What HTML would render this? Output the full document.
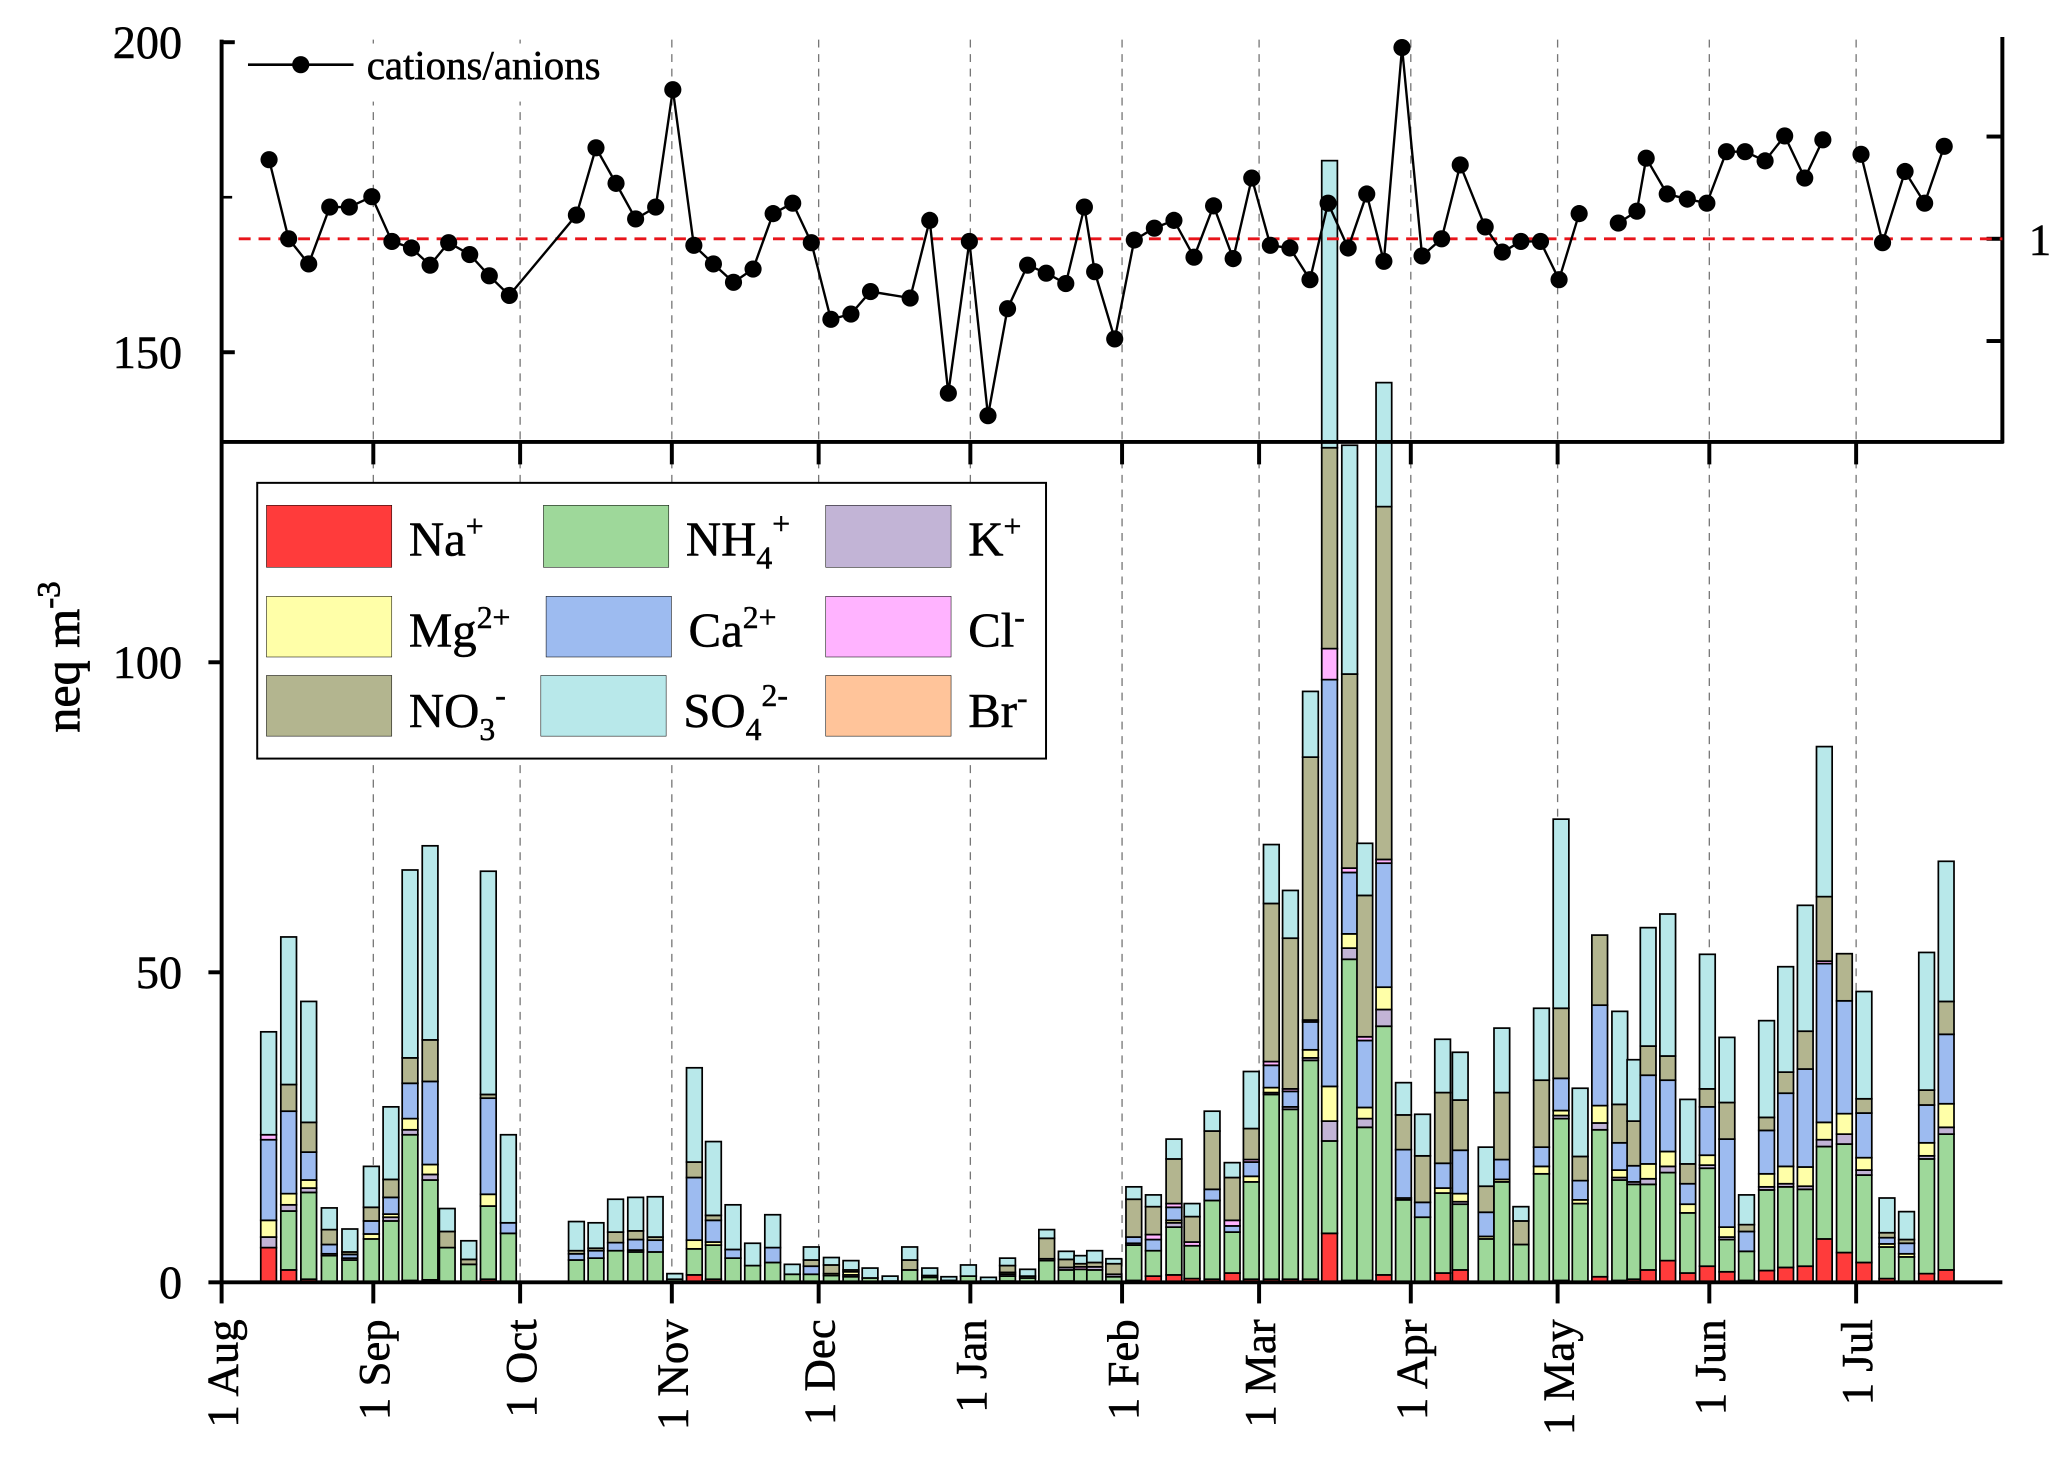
<!DOCTYPE html>
<html><head><meta charset="utf-8">
<style>
html,body{margin:0;padding:0;background:#fff;}
svg{display:block;font-family:"Liberation Serif",serif;}
</style></head>
<body>
<svg id="chart" width="2067" height="1469" viewBox="0 0 1567 1113.5" preserveAspectRatio="none" xmlns="http://www.w3.org/2000/svg">
<g id="grid"></g>
<g id="bars"></g>
<g id="axes"></g>
<g id="ratio"></g>
<g id="legend-ratio">
  <rect x="178" y="33" width="315" height="44" fill="#fff"/>
  <line x1="188" y1="49" x2="268" y2="49" stroke="#000" stroke-width="2"/>
  <circle cx="228" cy="49" r="6.5" fill="#000"/>
  <text x="278" y="60" font-size="31" stroke="#000" stroke-width="0.4">cations/anions</text>
</g>
<g id="legend" stroke-width="0.4">
  <rect x="195" y="366" width="598" height="209" fill="#fff" stroke="#000" stroke-width="1.5"/>
  <g><rect x="202" y="383" width="95" height="47" fill="#FF3B3B" stroke="#000"/><text x="310" y="421" font-size="37" stroke="#000">Na<tspan dy="-14" font-size="24">+</tspan></text></g>
  <g><rect x="412" y="383" width="95" height="47" fill="#9ED89A" stroke="#000"/><text x="520" y="421" font-size="37" stroke="#000">NH<tspan dy="10" font-size="24">4</tspan><tspan dy="-26" font-size="24">+</tspan></text></g>
  <g><rect x="626" y="383" width="95" height="47" fill="#C2B4D6" stroke="#000"/><text x="734" y="421" font-size="37" stroke="#000">K<tspan dy="-14" font-size="24">+</tspan></text></g>
  <g><rect x="202" y="452" width="95" height="46" fill="#FFFFA8" stroke="#000"/><text x="310" y="490" font-size="37" stroke="#000">Mg<tspan dy="-14" font-size="24">2+</tspan></text></g>
  <g><rect x="414" y="452" width="95" height="46" fill="#9DBBF0" stroke="#000"/><text x="522" y="490" font-size="37" stroke="#000">Ca<tspan dy="-14" font-size="24">2+</tspan></text></g>
  <g><rect x="626" y="452" width="95" height="46" fill="#FFB3FF" stroke="#000"/><text x="734" y="490" font-size="37" stroke="#000">Cl<tspan dy="-14" font-size="24">-</tspan></text></g>
  <g><rect x="202" y="512" width="95" height="46" fill="#B3B58F" stroke="#000"/><text x="310" y="551" font-size="37" stroke="#000">NO<tspan dy="10" font-size="24">3</tspan><tspan dy="-26" font-size="24">-</tspan></text></g>
  <g><rect x="410" y="512" width="95" height="46" fill="#B8E8EA" stroke="#000"/><text x="518" y="551" font-size="37" stroke="#000">SO<tspan dy="10" font-size="24">4</tspan><tspan dy="-26" font-size="24">2-</tspan></text></g>
  <g><rect x="626" y="512" width="95" height="46" fill="#FFC49A" stroke="#000"/><text x="734" y="551" font-size="37" stroke="#000">Br<tspan dy="-14" font-size="24">-</tspan></text></g>
</g>
<text transform="translate(60,498) rotate(-90)" text-anchor="middle" font-size="38" stroke="#000" stroke-width="0.6">neq m<tspan dy="-15" font-size="25">-3</tspan></text>
</svg>
<script>
const days = [9.6,13.7,17.8,22.0,26.2,30.6,34.6,38.5,42.6,46.1,50.5,54.5,58.6,72.5,76.5,80.5,84.6,88.6,92.6,96.6,100.5,104.5,108.5,112.6,116.6,120.5,124.6,128.6,132.5,136.6,140.6,144.7,148.6,152.6,156.7,160.6,164.7,168.6,172.6,175.8,178.4,182.3,186.4,190.4,194.6,198.3,202.4,206.5,210.4,214.5,218.4,222.5,226.4,230.5,233.6,237.5,241.5,245.4,249.5,253.1,258.4,261.6,265.5,269.7,273.7,277.6,281.6,285.7,288.8,291.5,295.5,299.6,303.6,307.6,311.6,315.7,319.6,323.6,327.5,331.6,335.6,340.3,344.3,348.4,352.4];
const na  = [5.6,2.0,0.5,0,0,0,0,0.3,0.4,0,0,0.5,0,0,0,0,0,0,0,1.2,0.5,0,0,0,0,0,0,0,0,0,0,0,0,0,0,0.2,0,0,0.2,0,0,0,0.3,1.0,1.2,0.6,0.5,1.5,0.5,0.5,0.5,0.5,7.9,0.3,0.3,1.2,0,0,1.5,2.0,0,0,0,0,0.3,0,0.9,0.3,0.5,2.0,3.5,1.5,2.6,1.7,0.3,1.9,2.4,2.6,7.0,4.8,3.2,0.6,0,1.4,2.0];
const nh4 = [0,9.5,14,4.3,3.6,7,9.9,23.5,16.1,5.6,2.9,11.8,7.9,3.6,3.9,5.1,4.9,4.9,0.5,4.2,5.5,3.9,2.7,3.2,1.3,1.3,1.1,0.9,0.7,0.2,2.0,0.8,0.3,1.0,0.2,0.8,0.7,3.5,1.8,2.1,2.0,0.9,5.7,4.1,7.7,5.3,12.7,6.6,15.7,29.8,27.4,35.3,14.9,51.8,24.7,40.1,13.3,10.5,12.9,10.6,7.0,16.2,6.1,17.5,26.1,12.7,23.7,16.2,15.3,13.8,14.2,9.7,15.8,5.2,4.7,13.0,13.0,12.4,14.9,17.5,14.1,5.1,4.1,18.5,21.9];
const k   = [1.7,1.0,0.7,0.3,0.3,0,0.6,0.8,0.9,0,0,0,0,0,0,0,0.3,0,0,0,0,0,0,0,0,0,0,0.3,0,0,0,0,0,0,0,0.3,0,0.3,0.4,0,0.5,0.4,0.3,0,0.7,0,0,0,0,0.3,0.4,0.4,3.2,1.8,1.4,2.7,0,0,0,0.4,0,0,0,0,0.5,0,1.1,0.4,0.4,0.9,1.0,0,0.5,0.4,0,0.5,0.5,0.5,1.1,1.6,0.8,0,0,0.5,1.1];
const mg  = [2.7,1.8,1.3,0,0,0.8,0.5,1.8,1.6,0,0,1.9,0,0,0,0,0,0,0,1.4,0.5,0,0,0,0,0,0.3,0.5,0,0,0,0,0,0,0,0.3,0,0,0,0,0,0,0,0,0.4,0,0,0,0.9,0.8,0,1.3,5.6,2.3,1.8,3.6,0.3,0,0.8,1.3,0.4,0.4,0,1.2,0.8,0.6,2.8,1.2,0,2.4,2.4,1.4,1.6,1.6,0,2.1,2.8,3.1,2.8,3.3,2.0,0.5,0.5,2.1,3.8];
const ca  = [13,13.3,4.5,1.5,0.6,2.1,2.7,5.7,13.4,0,0,15.5,1.7,1.0,1.2,1.3,1.7,1.9,0,10.1,3.5,1.4,0,2.4,0,1.3,0,0,0,0,0,0,0,0,0,0,0,0,0,0,0,0,1.0,1.8,2.1,0,1.8,1.0,2.3,3.6,2.5,4.5,65.6,9.9,10.8,20,7.8,2.4,4.0,7.0,3.9,3.2,0,3.1,5.2,3.1,16.2,4.4,2.6,14.3,11.5,3.3,7.8,14.2,3.2,7.0,11.8,15.8,25.6,18.2,7.2,1.0,1.7,6.1,11.2];
const cl  = [0.8,0,0,0,0,0,0,0,0,0,0,0,0,0,0,0,0,0,0,0,0,0,0,0,0,0,0,0,0,0,0,0,0,0,0,0,0,0,0,0.4,0,0,0,0.8,0.6,0.6,0,0.9,0.4,0.6,0.4,0.3,5.0,0.7,0.6,0.6,0,0,0,0,0,0,0,0,0,0,0,0,0,0,0,0,0,0,0,0,0,0,0.4,0,0,0,0,0,0];
const no3 = [0,4.3,4.8,2.4,0.4,2.2,2.9,4.1,6.7,2.6,0.8,0.6,0,0.5,0.4,1.7,1.4,0.5,0,2.5,0.8,0,0,0,0,1.0,1.4,0.3,0,0,1.6,0.3,0,0,0,1.1,0.3,3.3,1.3,0.5,0.7,1.7,6.1,4.5,7.2,4.1,9.4,6.9,5.0,25.5,24.3,42.4,32.4,31.3,22.8,56.9,5.6,7.5,11.4,8.1,4.2,10.8,3.8,10.8,11.3,3.9,11.3,6.2,7.2,4.7,3.9,3.2,2.9,5.9,1.1,2.1,3.4,6.1,10.4,7.6,2.3,0.8,0.6,2.4,5.3];
const so4 = [16.6,23.8,19.5,3.5,3.7,6.6,11.7,30.3,31.3,3.7,3.0,36,14.2,4.7,4.1,5.3,5.4,6.5,0.9,15.2,11.9,7.2,3.6,5.3,1.6,2.1,1.2,1.5,1.6,0.8,2.1,1.2,0.6,1.8,0.6,1.2,1.1,1.4,1.3,1.3,1.9,0.8,2.0,1.9,3.2,2.1,3.2,2.4,9.2,9.5,7.7,10.6,46.3,36.9,8.4,20,5.2,6.7,8.6,7.7,6.3,10.4,2.3,11.6,30.5,11,0,15,9.9,19.1,22.9,10.4,21.7,10.5,4.8,15.6,17.0,20.3,24.2,0,17.3,5.6,4.5,22.2,22.6];
const ratioDays = [9.7,13.7,17.8,22.1,26.1,30.7,34.8,38.8,42.6,46.4,50.7,54.7,58.8,72.5,76.5,80.6,84.6,88.7,92.2,96.5,100.5,104.6,108.6,112.7,116.7,120.5,124.5,128.6,132.6,140.7,144.7,148.5,152.8,156.6,160.6,164.7,168.5,172.5,176.3,178.4,182.5,186.5,190.6,194.6,198.7,202.7,206.7,210.5,214.3,218.3,222.4,226.1,230.2,234,237.5,241.2,245.3,249.3,253.1,258.2,261.7,265.5,269.5,273.3,277.4,281,285.4,289.2,291.1,295.4,299.5,303.5,307.5,311.3,315.4,319.4,323.5,327.2,331,335,339.4,344,348,352];
const ratioVals = [1.387,1.0,0.877,1.155,1.155,1.206,0.987,0.955,0.871,0.981,0.923,0.819,0.723,1.116,1.445,1.271,1.097,1.155,1.729,0.968,0.877,0.787,0.852,1.123,1.174,0.981,0.606,0.632,0.742,0.710,1.090,0.245,0.987,0.135,0.658,0.871,0.832,0.781,1.155,0.839,0.510,0.994,1.052,1.090,0.910,1.161,0.903,1.297,0.968,0.955,0.800,1.174,0.955,1.219,0.890,1.935,0.916,1.0,1.361,1.058,0.935,0.987,0.987,0.800,1.123,null,1.077,1.135,1.394,1.219,1.194,1.174,1.426,1.426,1.381,1.503,1.297,1.484,null,1.413,0.981,1.329,1.174,1.452];
const monthDays = [0,31,61,92,122,153,184,212,243,273,304,334];
const monthLabels = ["1 Aug","1 Sep","1 Oct","1 Nov","1 Dec","1 Jan","1 Feb","1 Mar","1 Apr","1 May","1 Jun","1 Jul"];
const yTicks = [0,50,100,150,200];
const seriesNames = ["na","nh4","k","mg","ca","cl","no3","so4"];
const seriesColors = ["#FF3B3B","#9ED89A","#C2B4D6","#FFFFA8","#9DBBF0","#FFB3FF","#B3B58F","#B8E8EA"];

const NS = "http://www.w3.org/2000/svg";
const X0 = 168, PXDAY = 3.71, Y0 = 972, PXU = 4.7;
function xS(d){ return X0 + d*PXDAY; }
function yS(v){ return Y0 - v*PXU; }
function rS(r){ return 181 - (r-1)*155; }
function mk(tag, attrs, parent){
  const e = document.createElementNS(NS, tag);
  for (const a in attrs) e.setAttribute(a, attrs[a]);
  parent.appendChild(e); return e;
}
const grid = document.getElementById('grid');
const barsG = document.getElementById('bars');
const axes = document.getElementById('axes');
const ratioG = document.getElementById('ratio');

monthDays.forEach((d,i)=>{
  if (i===0) return;
  const l = mk('line',{x1:xS(d),x2:xS(d),y1:30,y2:Y0,stroke:'#777','stroke-width':1,'stroke-dasharray':'6,5'},grid);
  
  
});

const series = [na,nh4,k,mg,ca,cl,no3,so4];
const bw = 3.2*PXDAY;
days.forEach((d,i)=>{
  let cum = 0;
  const g = mk('g',{},barsG);
  
  
  series.forEach((s,j)=>{
    const v = s[i];
    if (!v) return;
    const r = mk('rect',{x:xS(d)-bw/2,y:yS(cum+v),width:bw,height:v*PXU,fill:seriesColors[j],stroke:'#000','stroke-width':1.3},g);
    
    
    cum += v;
  });
});

mk('line',{x1:X0,x2:X0,y1:30,y2:Y0+1,stroke:'#000','stroke-width':3},axes);
mk('line',{x1:X0-1,x2:1518,y1:Y0,y2:Y0,stroke:'#000','stroke-width':3},axes);
mk('line',{x1:X0,x2:1519,y1:335,y2:335,stroke:'#000','stroke-width':3},axes);
mk('line',{x1:1518,x2:1518,y1:28,y2:336,stroke:'#000','stroke-width':3},axes);
[0.5,1,1.5].forEach(r=>{
  mk('line',{x1:1518,x2:1506,y1:rS(r),y2:rS(r),stroke:'#000','stroke-width':3},axes);
});
const r1 = mk('text',{x:1538,y:rS(1)+12,'font-size':34,stroke:'#000','stroke-width':0.4},axes);
r1.textContent = '1';


monthDays.forEach((d,i)=>{
  mk('line',{x1:xS(d),x2:xS(d),y1:Y0,y2:Y0+16,stroke:'#000','stroke-width':3},axes);
  if (i>0) mk('line',{x1:xS(d),x2:xS(d),y1:335,y2:352,stroke:'#000','stroke-width':3},axes);
  const t = mk('text',{transform:'translate('+(xS(d)+12)+',1000) rotate(-90)','text-anchor':'end','font-size':34,stroke:'#000','stroke-width':0.4},axes);
  t.textContent = monthLabels[i];
  
  
});
yTicks.forEach(v=>{
  if (v>=150) mk('line',{x1:X0,x2:X0+10,y1:yS(v),y2:yS(v),stroke:'#000','stroke-width':3},axes);
  else mk('line',{x1:X0-10,x2:X0,y1:yS(v),y2:yS(v),stroke:'#000','stroke-width':3},axes);
  const t = mk('text',{x:138,y:yS(v)+12,'text-anchor':'end','font-size':35,stroke:'#000','stroke-width':0.4},axes);
  t.textContent = String(v);
  
  
});
mk('line',{x1:X0,x2:X0+8,y1:yS(175),y2:yS(175),stroke:'#000','stroke-width':2},axes);

const ref = mk('line',{x1:181,x2:1518,y1:rS(1),y2:rS(1),stroke:'#E8141A','stroke-width':2.2,'stroke-dasharray':'9,6'},ratioG);


let seg = [];
const segs = [];
ratioVals.forEach((v,i)=>{
  if (v===null){ if (seg.length) segs.push(seg); seg=[]; return; }
  seg.push(xS(ratioDays[i]).toFixed(1)+','+rS(v).toFixed(1));
});
if (seg.length) segs.push(seg);
segs.forEach(s=>{
  const p = mk('polyline',{points:s.join(' '),fill:'none',stroke:'#000','stroke-width':1.8},ratioG);
  
  
});
ratioVals.forEach((v,i)=>{
  if (v===null) return;
  const c = mk('circle',{cx:xS(ratioDays[i]),cy:rS(v),r:6.5,fill:'#000'},ratioG);
  
  
});
</script>
</body></html>
